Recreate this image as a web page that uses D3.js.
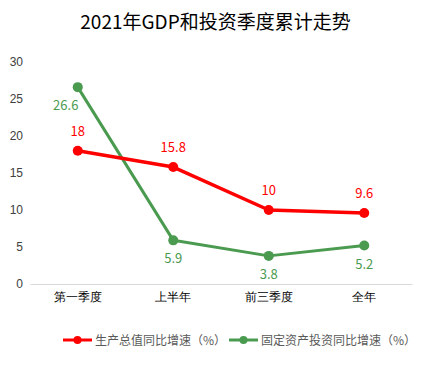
<!DOCTYPE html>
<html><head><meta charset="utf-8">
<script src="https://cdn.jsdelivr.net/npm/d3@7"></script>
<style>body{margin:0;background:#fff;}svg{display:block;font-family:"Noto Sans CJK SC","Noto Sans",sans-serif;}</style>
</head><body><svg id="c" width="431" height="383"></svg>
<script>
const categories = ["第一季度","上半年","前三季度","全年"];
const gdp = [18, 15.8, 10, 9.6];
const invest = [26.6, 5.9, 3.8, 5.2];
const yTicks = [0,5,10,15,20,25,30];
const seriesNames = ["生产总值同比增速（%）","固定资产投资同比增速（%）"];
const title = "2021年GDP和投资季度累计走势";

const svg = d3.select("#c");
const red = "#ff0000", green = "#4a9a4f";
const x = d3.scaleBand().domain(categories).range([30, 412]);
const y = d3.scaleLinear().domain([0,30]).range([284, 62]);
const cx = d => x(d) + x.bandwidth()/2;

svg.append("text").attr("x", 215.5).attr("y", 29).attr("text-anchor","middle")
  .attr("font-size", 19).attr("fill","#000").text(title);

// y axis labels
const ya = svg.append("g").attr("transform","translate(23,0)")
  .call(d3.axisLeft(y).tickValues(yTicks).tickSize(0).tickPadding(0));
ya.select(".domain").remove();
ya.selectAll("text").attr("font-size",12).attr("fill","#404040").attr("font-family","inherit");

// x axis
const xa = svg.append("g").attr("transform","translate(0,284)")
  .call(d3.axisBottom(x).tickSize(0).tickPadding(8));
xa.select(".domain").attr("stroke","#d9d9d9");
xa.selectAll("text").attr("font-size",12).attr("fill","#000").attr("font-family","inherit");

function drawSeries(vals, color, w){
  const line = d3.line().x((d,i)=>cx(categories[i])).y(d=>y(d));
  svg.append("path").datum(vals).attr("d", line).attr("fill","none")
    .attr("stroke", color).attr("stroke-width", w).attr("stroke-linejoin","round");
  svg.append("g").selectAll("circle").data(vals).join("circle")
    .attr("cx",(d,i)=>cx(categories[i])).attr("cy",d=>y(d)).attr("r",5).attr("fill",color);
}
drawSeries(invest, green, 3);
drawSeries(gdp, red, 3.5);

// labels
svg.append("g").selectAll("text").data(gdp).join("text")
  .attr("x",(d,i)=>cx(categories[i])).attr("y",d=>y(d)-15)
  .attr("text-anchor","middle").attr("font-size",13).attr("fill",red).text(d=>d);
const gdx = [-12, 0, 0, 0];
svg.append("g").selectAll("text").data(invest).join("text")
  .attr("x",(d,i)=>cx(categories[i])+gdx[i]).attr("y",d=>y(d)+23)
  .attr("text-anchor","middle").attr("font-size",13).attr("fill",green).text(d=>d);

// legend
const leg = [{n:seriesNames[0], c:red, x:63},{n:seriesNames[1], c:green, x:229}];
const lg = svg.append("g").selectAll("g").data(leg).join("g")
  .attr("transform", d=>`translate(${d.x},340)`);
lg.append("line").attr("x1",0).attr("x2",29).attr("stroke",d=>d.c).attr("stroke-width",3);
lg.append("circle").attr("cx",14.5).attr("r",4).attr("fill",d=>d.c);
lg.append("text").attr("x",32).attr("y",4.5).attr("font-size",12).attr("fill","#595959").text(d=>d.n);
</script></body></html>
